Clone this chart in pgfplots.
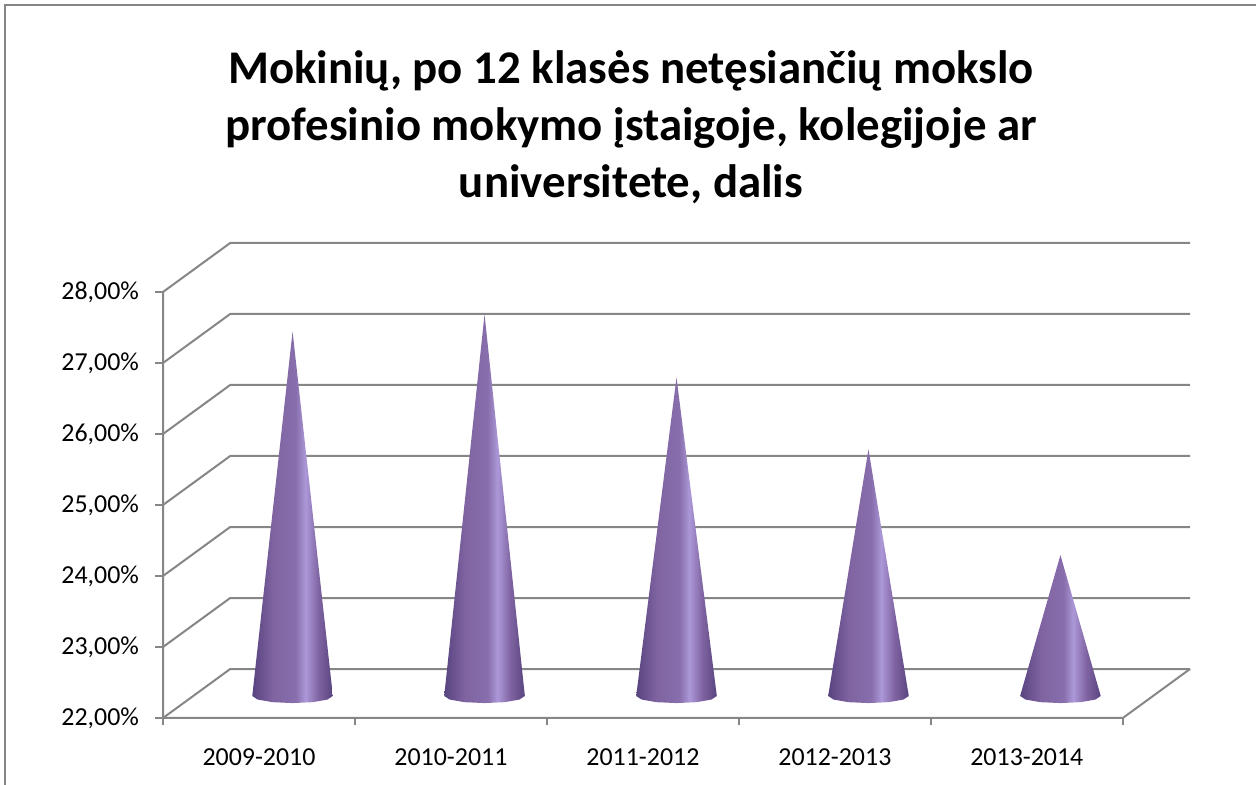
\documentclass[border=0pt]{standalone}
\usepackage{fontspec}
\setmainfont{Carlito}
\usepackage{pgfplots}
\usepackage{pgfplotstable}
\pgfplotsset{compat=1.18}
\definecolor{gridgray}{RGB}{134,134,134}
\definecolor{conedark}{RGB}{88,68,128}
\definecolor{conemid}{RGB}{128,100,162}
\definecolor{conelight}{RGB}{172,152,216}
\pgfdeclarehorizontalshading{coneshade}{100bp}{color(0bp)=(conedark); color(25bp)=(conedark); color(38bp)=(conemid); color(52bp)=(conemid!80!conelight); color(58bp)=(conelight); color(66bp)=(conemid); color(75bp)=(conedark); color(100bp)=(conedark)}

% data: category position (front-plane centre + half depth) and value in %
\pgfplotstableread{
x v
0.675 27.10
1.675 27.34
2.675 26.45
3.675 25.44
4.675 23.95
}\cones

% outline of one cone: offset from centre, tip flag, base offset
\pgfplotstableread{
dx t dy
-0.21 0 0
0 1 0
0.21 0 0
0.182 0 -0.05
0.105 0 -0.087
0 0 -0.1
-0.105 0 -0.087
-0.182 0 -0.05
}\coneshape

\begin{document}
\begin{tikzpicture}
\useasboundingbox (0,0) rectangle (628bp,392.5bp);
\draw[gridgray, line width=0.8bp] (2.5bp,-2bp) -- (2.5bp,390bp) -- (630bp,390bp);
\node[font=\fontsize{23.5}{28.75}\selectfont\bfseries, align=center] at (315.5bp,329bp)
  {Mokinių, po 12 klasės netęsiančių mokslo\\profesinio mokymo įstaigoje, kolegijoje ar\\universitete, dalis};
\begin{axis}[
  at={(81.5bp,33.5bp)}, anchor=south west,
  scale only axis, width=513.5bp, height=237.5bp,
  xmin=0, xmax=5.35, ymin=22, ymax=28.69,
  clip=false,
  axis lines*=left, axis line style={draw=none},
  tick align=outside,
  major tick length=4bp, minor tick length=3.5bp,
  tick style={gridgray, line width=0.8bp},
  ytick={22,23,24,25,26,27,28},
  yticklabels={{22,00\%},{23,00\%},{24,00\%},{25,00\%},{26,00\%},{27,00\%},{28,00\%}},
  xtick={0.5,1.5,2.5,3.5,4.5},
  xticklabels={2009-2010,2010-2011,2011-2012,2012-2013,2013-2014},
  minor xtick={0,1,2,3,4,5},
  major x tick style={draw=none},
  ticklabel style={font=\fontsize{13}{15}\selectfont, text=black},
  yticklabel style={xshift=-4.5bp},
  xticklabel style={yshift=-8bp},
]
% back wall gridlines and left wall diagonals
\addplot[gridgray, line width=1bp, unbounded coords=jump] coordinates {
 (0,22) (0.35,22.69) (5.35,22.69) (nan,nan)
 (0,23) (0.35,23.69) (5.35,23.69) (nan,nan)
 (0,24) (0.35,24.69) (5.35,24.69) (nan,nan)
 (0,25) (0.35,25.69) (5.35,25.69) (nan,nan)
 (0,26) (0.35,26.69) (5.35,26.69) (nan,nan)
 (0,27) (0.35,27.69) (5.35,27.69) (nan,nan)
 (0,28) (0.35,28.69) (5.35,28.69)
};
% front axes and floor edge
\addplot[gridgray, line width=1bp] coordinates {(0,28) (0,22) (5,22) (5.35,22.69)};
% cones
\pgfplotsinvokeforeach{0,1,2,3,4}{
  \pgfplotstablegetelem{#1}{x}\of\cones \edef\cx{\pgfplotsretval}
  \pgfplotstablegetelem{#1}{v}\of\cones \edef\cv{\pgfplotsretval}
  \addplot[draw=none, shade, shading=coneshade] table[
    x expr=\thisrow{dx}+\cx,
    y expr=\thisrow{t}*(\cv+0.345)+(1-\thisrow{t})*(22.31+\thisrow{dy})] {\coneshape};
}
\end{axis}
\end{tikzpicture}
\end{document}
